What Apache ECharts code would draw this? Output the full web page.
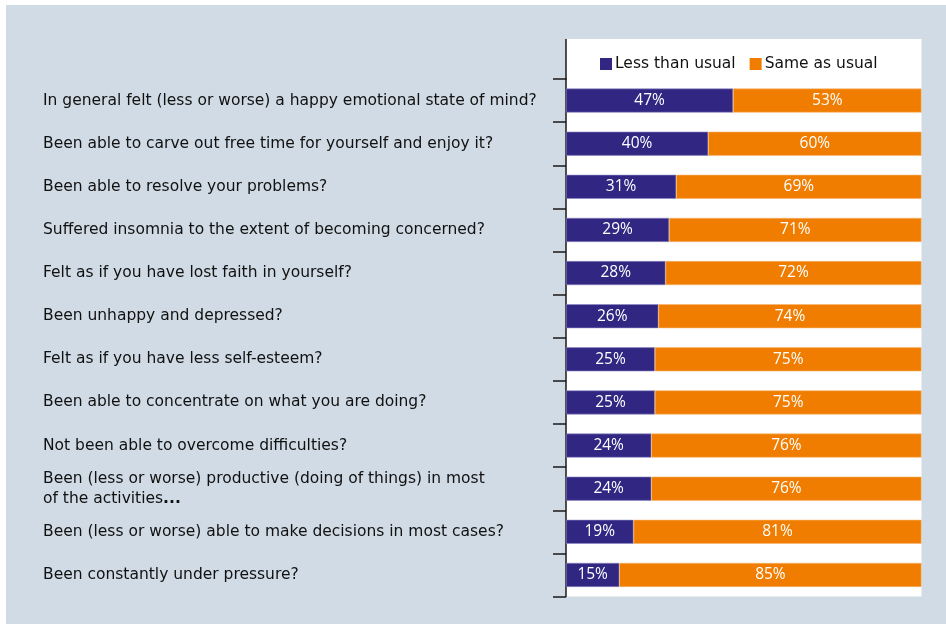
<!DOCTYPE html>
<html>
<head>
<meta charset="utf-8">
<script src="https://cdn.jsdelivr.net/npm/echarts@6/dist/echarts.min.js"></script>
<style>
  html, body { margin: 0; padding: 0; background: #fff; }
  #chart { width: 946px; height: 624px; }
</style>
</head>
<body>
<div id="chart"></div>
<script>
// questions, top to bottom
const categories = [
  'In general felt (less or worse) a happy emotional state of mind?',
  'Been able to carve out free time for yourself and enjoy it?',
  'Been able to resolve your problems?',
  'Suffered insomnia to the extent of becoming concerned?',
  'Felt as if you have lost faith in yourself?',
  'Been unhappy and depressed?',
  'Felt as if you have less self-esteem?',
  'Been able to concentrate on what you are doing?',
  'Not been able to overcome difficulties?',
  'Been (less or worse) productive (doing of things) in most\nof the activities{b|...}',
  'Been (less or worse) able to make decisions in most cases?',
  'Been constantly under pressure?'
];
const lessThanUsual = [47, 40, 31, 29, 28, 26, 25, 25, 24, 24, 19, 15];
const sameAsUsual = [53, 60, 69, 71, 72, 74, 75, 75, 76, 76, 81, 85];

const chart = echarts.init(document.getElementById('chart'));

const labelFont = '"DejaVu Sans", sans-serif';

chart.setOption({
  backgroundColor: '#ffffff',
  animation: false,
  graphic: [
    // blue panel
    { type: 'rect', z: -20, shape: { x: 6, y: 5, width: 940, height: 619 }, style: { fill: '#d0dbe5' } },
    // white plot panel (includes legend strip)
    { type: 'rect', z: -10, shape: { x: 566, y: 39, width: 355.5, height: 557.5 }, style: { fill: '#ffffff' } },
    // axis line above the first row
    { type: 'line', z: 10, shape: { x1: 566, y1: 39, x2: 566, y2: 79.5 }, style: { stroke: '#1a1a1a', lineWidth: 1.5 } }
  ],
  legend: {
    left: 600,
    top: 56,
    padding: 0,
    itemWidth: 12,
    itemHeight: 12,
    itemGap: 14,
    icon: 'rect',
    itemStyle: { borderWidth: 0 },
    textStyle: { fontFamily: labelFont, fontSize: 15.5, color: '#111', padding: [0, 0, 0, -2] },
    data: ['Less than usual', 'Same as usual']
  },
  grid: {
    left: 566,
    right: 24.5,
    top: 79,
    bottom: 27.5,
    containLabel: false
  },
  xAxis: {
    type: 'value',
    min: 0,
    max: 100,
    show: false
  },
  yAxis: {
    type: 'category',
    inverse: true,
    data: categories,
    axisLine: { show: true, lineStyle: { color: '#1a1a1a', width: 1.5 } },
    axisTick: { show: true, length: 13, lineStyle: { color: '#1a1a1a', width: 1.5 } },
    splitLine: { show: false },
    axisLabel: {
      align: 'left',
      margin: 523,
      fontFamily: labelFont,
      fontSize: 15.5,
      color: '#111',
      lineHeight: 20,
      rich: {
        b: { fontFamily: labelFont, fontSize: 15.5, fontWeight: 'bold', color: '#111' }
      }
    }
  },
  series: [
    {
      name: 'Less than usual',
      type: 'bar',
      stack: 'total',
      barWidth: 24,
      data: lessThanUsual,
      itemStyle: { color: '#312783', borderColor: '#8c86c2', borderWidth: 0.6 },
      label: {
        show: true,
        position: 'inside',
        formatter: '{c}%',
        color: '#fff',
        fontFamily: '"Open Sans", sans-serif',
        fontSize: 15.5
      }
    },
    {
      name: 'Same as usual',
      type: 'bar',
      stack: 'total',
      barWidth: 24,
      data: sameAsUsual,
      itemStyle: { color: '#f07d00', borderColor: '#f7b56e', borderWidth: 0.6 },
      label: {
        show: true,
        position: 'inside',
        formatter: '{c}%',
        color: '#fff',
        fontFamily: '"Open Sans", sans-serif',
        fontSize: 15.5
      }
    }
  ]
});
</script>
</body>
</html>
